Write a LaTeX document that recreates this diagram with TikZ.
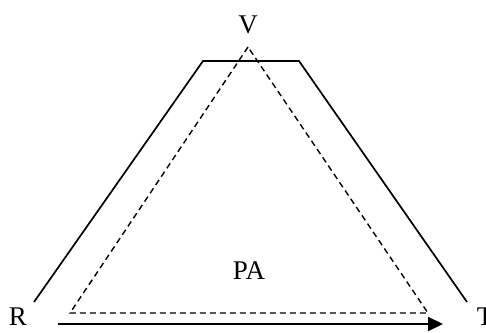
\documentclass[tikz,border=0pt]{standalone}
\usepackage{fontspec}
\setmainfont{Liberation Serif}
\usetikzlibrary{arrows.meta}
\begin{document}
\begin{tikzpicture}[x=1pt,y=-1pt,
  lbl/.style={font=\fontsize{27}{30}\selectfont, inner sep=0pt, anchor=base},
  solidline/.style={line width=1.7pt, line join=miter},
  dashline/.style={line width=1.4pt, dash pattern=on 6pt off 4pt},
  arrowline/.style={line width=2.2pt, -{Triangle[length=15pt,width=14pt]}}]
\useasboundingbox (0,0) rectangle (486,332);
\coordinate (s1) at (34,302);
\coordinate (s2) at (203,61);
\coordinate (s3) at (299,61);
\coordinate (s4) at (467,302);
\draw[solidline] (s1) -- (s2) -- (s3) -- (s4);
\coordinate (d1) at (248,47);
\coordinate (d2) at (70,313);
\coordinate (d3) at (428,313);
\draw[dashline] (d1) -- (d2) -- (d3) -- cycle;
\coordinate (a1) at (58,324);
\coordinate (a2) at (443,324);
\draw[arrowline] (a1) -- (a2);
\node[lbl] (V) at (248,33) {V};
\node[lbl] (PA) at (249,279) {PA};
\node[lbl] (R) at (18,325) {R};
\node[lbl] (T) at (485,325) {T};
\end{tikzpicture}
\end{document}
